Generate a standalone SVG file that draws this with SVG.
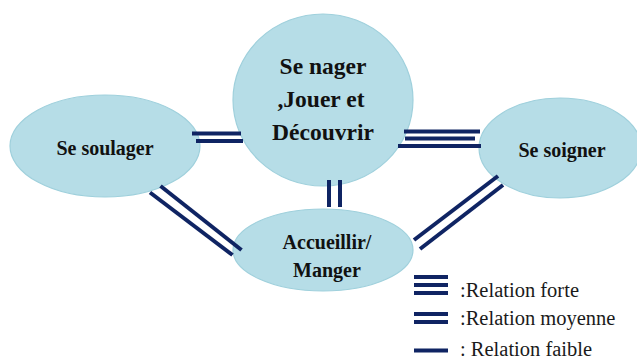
<svg xmlns="http://www.w3.org/2000/svg" width="637" height="360" viewBox="0 0 637 360">
<style>
.node{fill:#b6dde7;stroke:#9fd0dc;stroke-width:1.2}
.lbl{font-family:'Liberation Serif','DejaVu Serif',serif;font-weight:bold;font-size:20px;fill:#111;text-anchor:middle}
.big{font-size:23.5px}
.ln{stroke:#0f2463;stroke-width:4;fill:none}
.leg{font-family:'Liberation Serif','DejaVu Serif',serif;font-size:20.5px;fill:#1a1a1a}
</style>
<rect width="637" height="360" fill="#fff"/>
<g id="n-soulager">
<ellipse class="node" cx="105" cy="146" rx="95" ry="51"/>
<text class="lbl" x="105" y="155">Se soulager</text>
</g>
<g id="n-nager">
<ellipse class="node" cx="323" cy="100" rx="90" ry="86"/>
<text class="lbl big" x="323" y="74">Se nager</text>
<text class="lbl big" x="321" y="107">,Jouer et</text>
<text class="lbl big" x="323" y="140">Découvrir</text>
</g>
<g id="n-soigner">
<ellipse class="node" cx="560" cy="148" rx="81" ry="50"/>
<text class="lbl" x="562" y="157">Se soigner</text>
</g>
<g id="n-accueillir">
<ellipse class="node" cx="323" cy="250" rx="90" ry="41"/>
<text class="lbl" x="327" y="249">Accueillir/</text>
<text class="lbl" x="327" y="277">Manger</text>
</g>
<g id="connectors">
<line class="ln" x1="192" y1="133.5" x2="241" y2="133.5"/>
<line class="ln" x1="196" y1="141" x2="243" y2="141"/>
<line class="ln" x1="404" y1="131.5" x2="480" y2="131.5"/>
<line class="ln" x1="405" y1="138.5" x2="475" y2="138.5"/>
<line class="ln" x1="398" y1="146" x2="481" y2="146"/>
<line class="ln" x1="329" y1="180" x2="329" y2="207"/>
<line class="ln" x1="340" y1="180" x2="340" y2="207"/>
<line class="ln" x1="150" y1="192.5" x2="232.5" y2="255"/>
<line class="ln" x1="160.5" y1="186" x2="241.5" y2="250"/>
<line class="ln" x1="414" y1="240" x2="498" y2="176"/>
<line class="ln" x1="420" y1="249" x2="503" y2="185"/>
</g>
<g id="legend">
<line class="ln" x1="414" y1="277" x2="448" y2="277"/>
<line class="ln" x1="414" y1="285" x2="448" y2="285"/>
<line class="ln" x1="414" y1="293" x2="448" y2="293"/>
<line class="ln" x1="414" y1="314" x2="448" y2="314"/>
<line class="ln" x1="414" y1="322" x2="448" y2="322"/>
<line class="ln" x1="414" y1="350.5" x2="448" y2="350.5"/>
<text class="leg" x="460" y="297">:Relation forte</text>
<text class="leg" x="460" y="325">:Relation moyenne</text>
<text class="leg" x="460" y="356">: Relation faible</text>
</g>
</svg>
